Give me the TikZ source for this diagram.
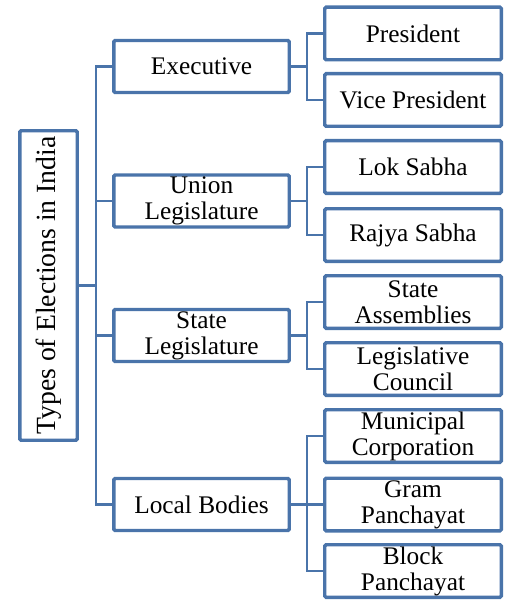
\documentclass[tikz,border=0pt]{standalone}
\usepackage{fontspec}
\setmainfont{Liberation Serif}
\usetikzlibrary{shadows}
\definecolor{boxblue}{HTML}{4A74AA}
\begin{document}
\begin{tikzpicture}[x=0.75pt,y=-0.75pt,
  box/.style={draw=boxblue,line width=2.6pt,fill=white,rounded corners=1pt,
    align=center,inner sep=0pt,
    font=\fontsize{19}{19.5}\selectfont,
    drop shadow={shadow xshift=0.8pt,shadow yshift=-0.8pt,fill=black,opacity=0.2}},
  midbox/.style={box,minimum width=131.6pt,minimum height=39pt},
  leafbox/.style={box,minimum width=132.4pt,minimum height=39.4pt},
  conn/.style={draw=boxblue,line width=1.8pt}]
\useasboundingbox (0,0) rectangle (510,606);
\node[box,minimum width=43.1pt,minimum height=232.1pt] (root) at (48.5,285.5) {};
\node[rotate=90,font=\fontsize{20.8}{20.8}\selectfont,inner sep=0pt] (roottext) at (root.center) {Types of Elections in India};

\node[midbox] (exec) at (201.5,66.5) {Executive};
\node[midbox] (union) at (201.5,201) {Union\\Legislature};
\node[midbox] (state) at (201.5,335.5) {State\\Legislature};
\node[midbox] (local) at (201.5,504.5) {Local Bodies};

\node[leafbox] (pres) at (413,33.5) {President};
\node[leafbox] (vp) at (413,100) {Vice President};
\node[leafbox] (lok) at (413,167) {Lok Sabha};
\node[leafbox] (rajya) at (413,235) {Rajya Sabha};
\node[leafbox] (sa) at (413,302) {State\\Assemblies};
\node[leafbox] (lc) at (413,369) {Legislative\\Council};
\node[leafbox] (mc) at (413,436) {Municipal\\Corporation};
\node[leafbox] (gp) at (413,504.5) {Gram\\Panchayat};
\node[leafbox] (bp) at (413,571) {Block\\Panchayat};

\coordinate (tk) at (96,0);
\coordinate (tkb) at (307,0);

\draw[conn] (root.east) -- (root.east -| tk);
\draw[conn] (exec.west) -- (exec.west -| tk) -- (local.west -| tk) -- (local.west);
\draw[conn] (union.west -| tk) -- (union.west);
\draw[conn] (state.west -| tk) -- (state.west);

\draw[conn] (exec.east) -- (exec.east -| tkb);
\draw[conn] (pres.west) -- (pres.west -| tkb) -- (vp.west -| tkb) -- (vp.west);
\draw[conn] (union.east) -- (union.east -| tkb);
\draw[conn] (lok.west) -- (lok.west -| tkb) -- (rajya.west -| tkb) -- (rajya.west);
\draw[conn] (state.east) -- (state.east -| tkb);
\draw[conn] (sa.west) -- (sa.west -| tkb) -- (lc.west -| tkb) -- (lc.west);
\draw[conn] (local.east) -- (local.east -| tkb);
\draw[conn] (mc.west) -- (mc.west -| tkb) -- (bp.west -| tkb) -- (bp.west);
\draw[conn] (gp.west -| tkb) -- (gp.west);
\end{tikzpicture}
\end{document}
